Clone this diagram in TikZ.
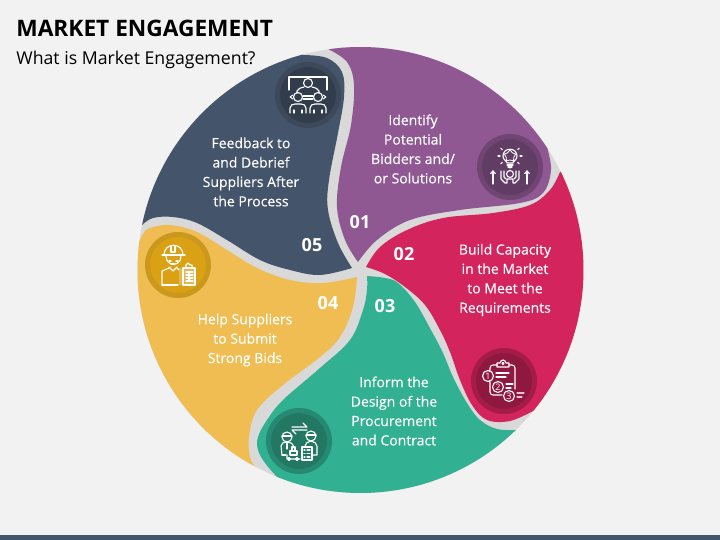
\documentclass[tikz,border=0pt]{standalone}
\usepackage{fontspec}
\setmainfont{Open Sans}
\usepackage{tikz}
\usetikzlibrary{arrows.meta,positioning,calc,shapes.geometric}
\definecolor{pagebg}{HTML}{F2F2F2}
\definecolor{bandgray}{HTML}{D9D9D9}
\definecolor{navyc}{HTML}{44546A}
\definecolor{purplec}{HTML}{8F5893}
\definecolor{crimsonc}{HTML}{D3245E}
\definecolor{greenc}{HTML}{32B092}
\definecolor{yellowc}{HTML}{EFBD52}
\definecolor{yellowring}{HTML}{C9981C}
\definecolor{yellowfill}{HTML}{DBA114}
\tikzset{
  badge/.style={circle,draw,inner sep=0pt,minimum size=30.5pt,line width=2.5pt},
  steptext/.style={text=white,align=center,font=\fontsize{7}{9.7}\selectfont\addfontfeatures{FakeBold=0.25}},
  stepnum/.style={text=white,font=\fontsize{9}{10}\selectfont\bfseries},
  icon/.style={white,line width=0.55pt,line cap=round,line join=round},
  smoothedge/.style={smooth,tension=0.6}
}
\begin{document}
\begin{tikzpicture}[x=0.5pt,y=-0.5pt]
\useasboundingbox (0,0) rectangle (720,540);
\fill[pagebg] (0,0) rectangle (720,540);
\fill[navyc] (0,535) rectangle (720,540);
% title lines
\node[anchor=base west,inner sep=0pt,font=\fontsize{11.35}{14}\selectfont\bfseries] (title) at (16,37) {MARKET ENGAGEMENT};
\node[anchor=base west,inner sep=0pt,font=\fontsize{8.85}{11}\selectfont] (subtitle) at (16,65) {What is Market Engagement?};
% disk and petals
\fill[bandgray] (360.5,270) circle (223);
\begin{scope}
\clip (360.5,270) circle (223);
\fill[purplec] plot[smoothedge] coordinates {(358,262) (345,240) (337,207) (341,167) (351,125) (354,85) (347,62) (328,49)}
  -- (320,20) -- (620,20) -- (600,110)
  -- plot[smoothedge] coordinates {(547,147) (551,170) (543,193) (520,203) (460,210) (410,220) (377,240) (358,262)} -- cycle;
\fill[crimsonc] plot[smoothedge] coordinates {(366,267) (380,247) (407,230) (443,218) (493,213) (530,205) (550,190) (560,172)}
  -- (630,150) -- (630,450) -- (545,440)
  -- plot[smoothedge] coordinates {(533,411) (510,421) (487,420) (472,405) (460,380) (450,352) (440,330) (425,305) (405,287) (385,274) (366,267)} -- cycle;
\fill[greenc] plot[smoothedge] coordinates {(517,430) (497,429) (480,420) (467,403) (453,377) (443,353) (431,330) (415,302) (398,283) (385,278) (367,276)}
  -- plot[smoothedge] coordinates {(367,276) (367,290) (363,310) (350,340) (320,368) (283,400) (267,420) (258,437) (258,450) (265,463) (277,477)}
  -- (270,510) -- (530,510) -- cycle;
\fill[yellowc] plot[smoothedge] coordinates {(138,245) (143,234) (150,228) (170,225) (197,232) (227,250) (257,268) (290,280) (323,283) (357,277)}
  -- plot[smoothedge] coordinates {(357,277) (353,307) (340,337) (320,357) (283,385) (257,410) (249,437) (250,457) (255,467)}
  -- (240,500) -- (100,300) -- (100,245) -- cycle;
\fill[navyc] plot[smoothedge] coordinates {(352,268) (338,243) (328,210) (329,180) (338,133) (344,97) (342,72) (327,58) (303,55)}
  -- (290,30) -- (100,30) -- (110,220)
  -- plot[smoothedge] coordinates {(142,225) (153,218) (173,217) (197,223) (227,240) (260,260) (290,270) (320,275) (352,268)} -- cycle;
\end{scope}
% badges
\node[badge,draw=navyc!75!black!95,fill=navyc!72!black] (badge05) at (308,95) {};
\node[badge,draw=purplec!78!black,fill=purplec!68!black] (badge01) at (510,167) {};
\node[badge,draw=crimsonc!78!black,fill=crimsonc!68!black] (badge02) at (504,381) {};
\node[badge,draw=greenc!78!black,fill=greenc!68!black] (badge03) at (299,441) {};
\node[badge,draw=yellowring,fill=yellowfill] (badge04) at (178,265) {};
% step texts
\node[steptext] (text01) at (413,149) {Identify\\Potential\\Bidders and/\\or Solutions};
\node[steptext] (text02) at (505,280) {Build Capacity\\in the Market\\to Meet the\\Requirements};
\node[steptext] (text03) at (394,411) {Inform the\\Design of the\\Procurement\\and Contract};
\node[steptext] (text04) at (245,340) {Help Suppliers\\to Submit\\Strong Bids};
\node[steptext] (text05) at (251,172) {Feedback to\\and Debrief\\Suppliers After\\the Process};
\node[stepnum] (num01) at (360,222) {01};
\node[stepnum] (num02) at (404,254) {02};
\node[stepnum] (num03) at (385,306) {03};
\node[stepnum] (num04) at (328,303) {04};
\node[stepnum] (num05) at (312,245) {05};
% icon 05: meeting at a board
\begin{scope}[shift={(badge05.center)},icon]
\draw (-19,-5) -- (-19,-18) -- (19,-18) -- (19,-5);
\draw (0,-12) circle (4.5);
\draw (-11,-2) -- (-11,-4) .. controls (-10,-7) and (-7,-7) .. (-4,-8);
\draw (11,-2) -- (11,-4) .. controls (10,-7) and (7,-7) .. (4,-8);
\draw (-10,2) circle (4.5) (10,2) circle (4.5);
\draw (-5,1) -- (5,1) (-5,4) -- (5,4);
\draw (-18,2) -- (-15,0) (-18,2) -- (-15,4) (18,2) -- (15,0) (18,2) -- (15,4);
\draw (-18,18) -- (-18,13) .. controls (-18,10) and (-15,9) .. (-13,9) -- (-7,9) .. controls (-5,9) and (-2,10) .. (-2,13) -- (-2,18);
\draw (2,18) -- (2,13) .. controls (2,10) and (5,9) .. (7,9) -- (13,9) .. controls (15,9) and (18,10) .. (18,13) -- (18,18);
\draw (-14,15) -- (-14,18) (-6,15) -- (-6,18) (6,15) -- (6,18) (14,15) -- (14,18);
\end{scope}
% icon 01: bulb and raised hands
\begin{scope}[shift={(badge01.center)},icon]
\draw (-3,-4) .. controls (-3,-6) and (-7,-7) .. (-7,-11) .. controls (-7,-20) and (7,-20) .. (7,-11) .. controls (7,-7) and (3,-6) .. (3,-4) -- cycle;
\node[star,star points=5,draw=white,line width=0.4pt,inner sep=0pt,minimum size=6pt] (bulbstar) at (0,-11) {};
\draw (-3,-2) -- (3,-2) (-2,0) -- (2,0);
\foreach \a in {0,40,140,180,220,-40,90}{\draw ($(0,-11)+(\a:10)$) -- ($(0,-11)+(\a:12)$);}
\draw (0,7) circle (3.5);
\draw (-9,4) -- (-9,12) -- (-5,16) -- (-3,16) -- (-3,12) -- (3,12) -- (3,16) -- (5,16) -- (9,12) -- (9,4);
\draw (-6,4) -- (-6,10) -- (-4,12) (6,4) -- (6,10) -- (4,12);
\draw[-{Straight Barb[length=1.5pt,width=2.5pt]}] (-17,17) -- (-17,3);
\draw[-{Straight Barb[length=1.5pt,width=2.5pt]}] (17,17) -- (17,3);
\end{scope}
% icon 02: numbered checklist
\begin{scope}[shift={(badge02.center)},icon]
\draw[rounded corners=1.5pt] (-14,-10) -- (-14,-16) -- (-7,-16) (5,-16) -- (11,-16) -- (11,8);
\draw[rounded corners=1.5pt] (-14,0) -- (-14,14) -- (-2,14);
\draw (-7,-14) -- (-7,-18) -- (-4,-18) .. controls (-3,-22) and (1,-22) .. (2,-18) -- (5,-18) -- (5,-14) -- cycle;
\draw (-1,-17.5) circle (1);
\draw (-16,-5) circle (5.5) (-6,6) circle (5.5) (5,15) circle (5.5);
\node[text=white,inner sep=0pt,font=\fontsize{4.5}{5}\selectfont] (one) at (-16,-5) {1};
\node[text=white,inner sep=0pt,font=\fontsize{4.5}{5}\selectfont] (two) at (-6,6) {2};
\node[text=white,inner sep=0pt,font=\fontsize{4.5}{5}\selectfont] (three) at (5,15) {3};
\draw (-8,-8) -- (5,-8) (-8,-4) -- (2,-4) (2,3) -- (9,3) (2,7) -- (7,7);
\draw[white!70!crimsonc] (13,12) -- (20,12) (13,16) -- (18,16);
\end{scope}
% icon 03: two suppliers exchanging
\begin{scope}[shift={(badge03.center)},icon]
\draw (-7,-14) -- (8,-14) -- (4,-18) (8,-11) -- (-7,-11) -- (-3,-7) ;
\draw (-12,-4) circle (5) (12,-5) circle (5);
\draw (-17,-5) -- (-7,-5) (7,-6) -- (17,-6);
\draw (-17,14) -- (-18,5) .. controls (-18,2) and (-15,1) .. (-12,1) .. controls (-9,1) and (-6,2) .. (-5,7);
\draw (-17,14) -- (-13,14) (-12,1) -- (-12,8);
\draw (6,5) .. controls (6,2) and (9,1) .. (12,0) .. controls (15,1) and (18,2) .. (18,5) -- (18,14) -- (14,14);
\draw (-12,14) -- (-12,18) -- (1,18) (-10,18) circle (1.5) (-2,18) circle (1.5);
\draw (-9,14) rectangle (-2,10) (-7,10) rectangle (-4,6);
\draw (3,6) rectangle (13,19);
\draw (5,9) -- (6,9) (8,9) -- (11,9) (5,12.5) -- (6,12.5) (8,12.5) -- (11,12.5) (5,16) -- (6,16) (8,16) -- (11,16);
\end{scope}
% icon 04: site worker with clipboard
\begin{scope}[shift={(badge04.center)},icon]
\draw (-14,-10) .. controls (-14,-23) and (5,-23) .. (5,-10);
\draw (-16,-10) -- (7,-10) (-7,-19) -- (-7,-13) -- (-3,-13) -- (-3,-19);
\draw (-12,-9) .. controls (-12,2) and (3,2) .. (3,-9);
\draw (-9,-4) -- (-7,-4) (-2,-4) -- (0,-4) (-7,-1) -- (-3,-1);
\draw (-9,2) -- (-5,6) -- (-1,2);
\draw (-16,20) -- (-16,6) -- (-9,3) (-1,3) -- (1,5);
\draw (-16,20) -- (0,20);
\fill[white,opacity=0.25] (1,3) rectangle (17,20);
\draw (5,3) rectangle (17,20);
\draw (8,3) -- (8,0) -- (10,-2) -- (12,0) -- (14,0) -- (14,3);
\draw (8,7) -- (15,7) (8,10) -- (15,10) (8,13) -- (15,13) (8,16) -- (15,16) (11,7) -- (11,16);
\end{scope}
\end{tikzpicture}
\end{document}
